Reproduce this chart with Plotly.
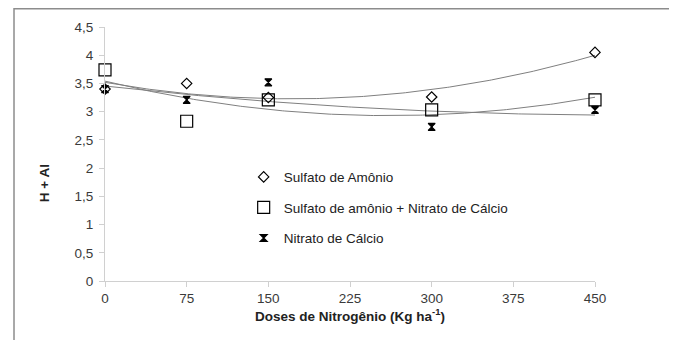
import numpy as np
import plotly.graph_objects as go

doses = [0, 75, 150, 300, 450]
sulfato_amonio = [3.40, 3.50, 3.25, 3.26, 4.05]
sulfato_nitrato = [3.74, 2.83, 3.21, 3.03, 3.21]
nitrato_calcio = [3.40, 3.21, 3.52, 2.73, 3.03]

names = ["Sulfato de Amônio", "Sulfato de amônio + Nitrato de Cálcio", "Nitrato de Cálcio"]
series = [sulfato_amonio, sulfato_nitrato, nitrato_calcio]
symbols = ["diamond-open", "square-open", "hourglass"]
sizes = [8, 12, 7]

fig = go.Figure()
xs = np.linspace(0, 450, 200)
for ys in series:
    c = np.polyfit(doses, ys, 2)
    fig.add_trace(go.Scatter(x=xs, y=np.polyval(c, xs), mode="lines",
                             line=dict(color="#7f7f7f", width=1),
                             showlegend=False, hoverinfo="skip", cliponaxis=False))
for i, (nm, ys) in enumerate(zip(names, series)):
    fig.add_trace(go.Scatter(x=doses, y=ys, mode="markers", name=nm,
                             legendgroup=str(i), cliponaxis=False,
                             marker=dict(symbol=symbols[i], size=sizes[i], color="black",
                                         line=dict(color="black", width=1.2))))

font = "Liberation Sans, Arial, sans-serif"
fs = 13.5
fig.update_layout(
    width=669, height=332,
    margin=dict(l=97, r=82, t=19, b=59),
    paper_bgcolor="white", plot_bgcolor="white",
    separators=",.",
    font=dict(family=font, size=fs, color="#3a3a3a"),
    showlegend=True,
    legend=dict(x=0.283, y=0.47, xanchor="left", yanchor="top",
                bgcolor="rgba(0,0,0,0)", traceorder="grouped", tracegroupgap=10,
                font=dict(family=font, size=fs, color="#222"), itemwidth=30),
    xaxis=dict(range=[0, 450], tickvals=[0, 75, 150, 225, 300, 375, 450],
               showline=True, linecolor="#d0d0d0", linewidth=1,
               ticks="outside", ticklen=5, tickcolor="#d0d0d0",
               showgrid=False, zeroline=False,
               title=dict(text="<b>Doses de Nitrogênio (Kg ha<sup>-1</sup>)</b>",
                          font=dict(size=fs, color="#222"), standoff=6)),
    yaxis=dict(range=[0, 4.5], tickvals=[0, 0.5, 1, 1.5, 2, 2.5, 3, 3.5, 4, 4.5],
               showline=True, linecolor="#d0d0d0", linewidth=1,
               ticks="outside", ticklen=5, tickcolor="#d0d0d0",
               ticklabelstandoff=3,
               showgrid=False, zeroline=False),
    annotations=[dict(text="<b>H + Al</b>", xref="paper", yref="paper",
                      x=-0.122, y=0.386, xanchor="center", yanchor="middle",
                      showarrow=False, textangle=-90,
                      font=dict(size=fs, color="#222"))],
    shapes=[dict(type="rect", xref="paper", yref="paper",
                 x0=-0.1857, x1=1.159, y0=-0.3, y1=1.072,
                 line=dict(color="#8c8c8c", width=1.5))],
)
fig.write_html("out.html")
